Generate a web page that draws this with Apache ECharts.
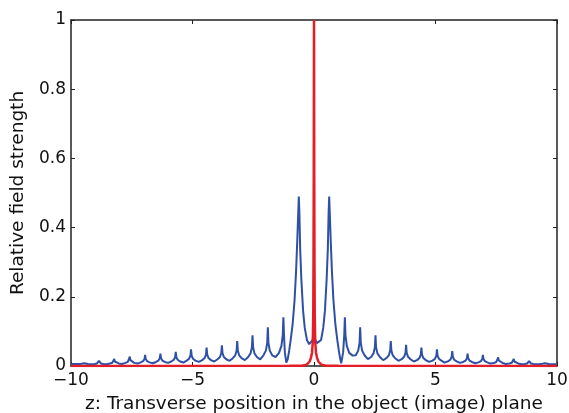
<!DOCTYPE html>
<html>
<head>
<meta charset="utf-8">
<script src="https://cdn.jsdelivr.net/npm/echarts@6/dist/echarts.min.js"></script>
<style>
html,body{margin:0;padding:0;background:#fff;}
#chart{width:569px;height:413px;}
</style>
</head>
<body>
<div id="chart"></div>
<script>
// Blue curve: [z, relative field strength]
const blueCurve = [
  [-10,0.006],
  [-9.66,0.006],[-9.56,0.0065],[-9.505,0.008],[-9.48,0.011],[-9.455,0.008],[-9.40,0.0065],[-9.30,0.006],[-9.164,0.005],
  [-9.03,0.006],[-8.93,0.0075],[-8.875,0.010],[-8.85,0.015],[-8.825,0.010],[-8.77,0.0075],[-8.67,0.006],[-8.535,0.005],
  [-8.40,0.0074],[-8.30,0.0095],[-8.245,0.013],[-8.22,0.020],[-8.195,0.013],[-8.14,0.0095],[-8.04,0.0074],[-7.90,0.006],
  [-7.76,0.009],[-7.66,0.012],[-7.605,0.017],[-7.58,0.027],[-7.555,0.017],[-7.50,0.012],[-7.40,0.009],[-7.265,0.007],
  [-7.13,0.0104],[-7.03,0.014],[-6.975,0.020],[-6.95,0.032],[-6.925,0.020],[-6.87,0.014],[-6.77,0.0104],[-6.635,0.008],
  [-6.50,0.0117],[-6.40,0.0158],[-6.345,0.0225],[-6.32,0.036],[-6.295,0.0225],[-6.24,0.0158],[-6.14,0.0117],[-6.005,0.009],
  [-5.87,0.013],[-5.77,0.018],[-5.715,0.0255],[-5.69,0.041],[-5.665,0.0255],[-5.61,0.018],[-5.51,0.013],[-5.375,0.010],
  [-5.24,0.0156],[-5.14,0.021],[-5.085,0.030],[-5.06,0.048],[-5.035,0.030],[-4.98,0.021],[-4.88,0.0156],[-4.74,0.012],
  [-4.60,0.017],[-4.50,0.023],[-4.445,0.033],[-4.42,0.053],[-4.395,0.033],[-4.34,0.023],[-4.24,0.017],[-4.105,0.013],
  [-3.97,0.0195],[-3.87,0.026],[-3.815,0.0375],[-3.79,0.060],[-3.765,0.0375],[-3.71,0.026],[-3.61,0.0195],[-3.475,0.015],
  [-3.34,0.0225],[-3.24,0.031],[-3.185,0.0445],[-3.16,0.072],[-3.135,0.0445],[-3.08,0.031],[-2.98,0.0225],[-2.845,0.017],
  [-2.71,0.026],[-2.61,0.0365],[-2.555,0.054],[-2.53,0.089],[-2.505,0.054],[-2.45,0.0365],[-2.35,0.026],[-2.215,0.019],
  [-2.08,0.031],[-1.98,0.0445],[-1.925,0.067],[-1.90,0.112],[-1.875,0.067],[-1.82,0.0445],[-1.72,0.031],[-1.58,0.026],
  [-1.44,0.038],[-1.34,0.058],[-1.285,0.09],[-1.26,0.141],[-1.235,0.09],[-1.20,0.04],[-1.14,0.01],[-1.12,0.008],
  [-1.08,0.02],[-1.02,0.045],[-0.96,0.075],[-0.88,0.12],[-0.80,0.19],[-0.74,0.27],[-0.69,0.36],[-0.65,0.44],[-0.625,0.49],
  [-0.60,0.44],[-0.57,0.34],[-0.52,0.25],[-0.45,0.16],[-0.38,0.11],[-0.29,0.075],[-0.2,0.063],[-0.12,0.066],[-0.06,0.075],[-0.025,0.085],
  [0,0.095],
  [0.025,0.085],[0.06,0.075],[0.12,0.066],[0.2,0.063],[0.29,0.075],[0.38,0.11],[0.45,0.16],[0.52,0.25],[0.57,0.34],[0.60,0.44],
  [0.625,0.49],[0.65,0.44],[0.69,0.36],[0.74,0.27],[0.80,0.19],[0.88,0.12],[0.96,0.075],[1.02,0.045],[1.08,0.02],
  [1.12,0.008],[1.14,0.01],[1.20,0.04],[1.245,0.09],[1.27,0.141],[1.295,0.09],[1.35,0.058],[1.45,0.038],[1.59,0.03],
  [1.72,0.031],[1.82,0.0445],[1.875,0.067],[1.90,0.112],[1.925,0.067],[1.98,0.0445],[2.08,0.031],[2.215,0.02],
  [2.35,0.026],[2.45,0.0365],[2.505,0.054],[2.53,0.089],[2.555,0.054],[2.61,0.0365],[2.71,0.026],[2.845,0.017],
  [2.98,0.0225],[3.08,0.031],[3.135,0.0445],[3.16,0.072],[3.185,0.0445],[3.24,0.031],[3.34,0.0225],[3.475,0.015],
  [3.61,0.0196],[3.71,0.0265],[3.765,0.038],[3.79,0.061],[3.815,0.038],[3.87,0.0265],[3.97,0.0196],[4.105,0.013],
  [4.24,0.017],[4.34,0.023],[4.395,0.033],[4.42,0.053],[4.445,0.033],[4.50,0.023],[4.60,0.017],[4.74,0.012],
  [4.88,0.0156],[4.98,0.021],[5.035,0.030],[5.06,0.048],[5.085,0.030],[5.14,0.021],[5.24,0.0156],[5.375,0.010],
  [5.51,0.0133],[5.61,0.018],[5.665,0.0265],[5.69,0.043],[5.715,0.0265],[5.77,0.018],[5.87,0.0133],[6.005,0.009],
  [6.14,0.0117],[6.24,0.0158],[6.295,0.0225],[6.32,0.036],[6.345,0.0225],[6.40,0.0158],[6.50,0.0117],[6.635,0.008],
  [6.77,0.0104],[6.87,0.014],[6.925,0.020],[6.95,0.032],[6.975,0.020],[7.03,0.014],[7.13,0.0104],[7.265,0.007],
  [7.40,0.0088],[7.50,0.0115],[7.555,0.016],[7.58,0.025],[7.605,0.016],[7.66,0.0115],[7.76,0.0088],[7.90,0.006],
  [8.04,0.0074],[8.14,0.0095],[8.195,0.013],[8.22,0.020],[8.245,0.013],[8.30,0.0095],[8.40,0.0074],[8.535,0.005],
  [8.67,0.0059],[8.77,0.0072],[8.825,0.0095],[8.85,0.014],[8.875,0.0095],[8.93,0.0072],[9.03,0.0059],[9.164,0.005],
  [9.30,0.0056],[9.40,0.0065],[9.455,0.008],[9.48,0.011],[9.505,0.008],[9.56,0.0065],[9.66,0.0056],[10,0.005]
];

// Red curve: [z, relative field strength]
const redCurve = [
  [-10,0],[-1,0.0005],[-0.5,0.001],[-0.3,0.004],[-0.18,0.013],[-0.12,0.025],[-0.08,0.04],[-0.05,0.07],
  [-0.03,0.15],[-0.02,0.3],[-0.01,0.55],[-0.005,0.8],[0,1],
  [0.005,0.8],[0.01,0.55],[0.02,0.3],[0.03,0.15],[0.05,0.07],[0.08,0.04],[0.12,0.025],[0.18,0.013],
  [0.3,0.004],[0.5,0.001],[1,0.0005],[10,0]
];

const xTicks = [-10, -5, 0, 5, 10];
const yTicks = [0, 0.2, 0.4, 0.6, 0.8, 1];
const xTitle = 'z: Transverse position in the object (image) plane';
const yTitle = 'Relative field strength';

const FONT = 'DejaVu Sans';
const axisColor = '#222';

const chart = echarts.init(document.getElementById('chart'), null, {renderer: 'canvas'});

function axisBase(extra) {
  return Object.assign({
    type: 'value',
    axisLine: {show: true, onZero: false, lineStyle: {color: axisColor, width: 1.5}},
    axisTick: {show: true, inside: true, length: 4, lineStyle: {color: axisColor, width: 1}},
    splitLine: {show: false},
  }, extra);
}

chart.setOption({
  animation: false,
  backgroundColor: '#fff',
  grid: {left: 71, right: 12, top: 20, bottom: 47, containLabel: false, outerBoundsMode: 'none'},
  xAxis: [
    axisBase({
      min: -10, max: 10, interval: 5, position: 'bottom',
      axisLabel: {
        show: true, margin: 6, fontFamily: FONT, fontSize: 17, color: '#111',
        formatter: v => (xTicks.indexOf(v) >= 0 ? String(v).replace('-', '\u2212') : '')
      },
      name: xTitle, nameLocation: 'middle', nameGap: 29,
      nameTextStyle: {fontFamily: FONT, fontSize: 18.5, color: '#111'}
    }),
    axisBase({
      min: -10, max: 10, interval: 5, position: 'top',
      axisLabel: {show: false}
    })
  ],
  yAxis: [
    axisBase({
      min: 0, max: 1, interval: 0.2, position: 'left',
      axisLabel: {
        show: true, margin: 5, fontFamily: FONT, fontSize: 17, color: '#111',
        formatter: v => {
          const t = yTicks.find(k => Math.abs(k - v) < 1e-9);
          return t === undefined ? '' : String(t);
        }
      },
      name: yTitle, nameLocation: 'middle', nameGap: 40, nameRotate: 90,
      nameTextStyle: {fontFamily: FONT, fontSize: 18.5, color: '#111'}
    }),
    axisBase({
      min: 0, max: 1, interval: 0.2, position: 'right',
      axisLabel: {show: false}
    })
  ],
  series: [
    {
      type: 'line', xAxisIndex: 0, yAxisIndex: 0,
      data: blueCurve, showSymbol: false, symbol: 'none',
      lineStyle: {color: '#2e50a6', width: 2},
      z: 2, clip: true
    },
    {
      type: 'line', xAxisIndex: 0, yAxisIndex: 0,
      data: redCurve, showSymbol: false, symbol: 'none',
      lineStyle: {color: '#e41e26', width: 2.5},
      z: 3, clip: true
    }
  ]
});
</script>
</body>
</html>
